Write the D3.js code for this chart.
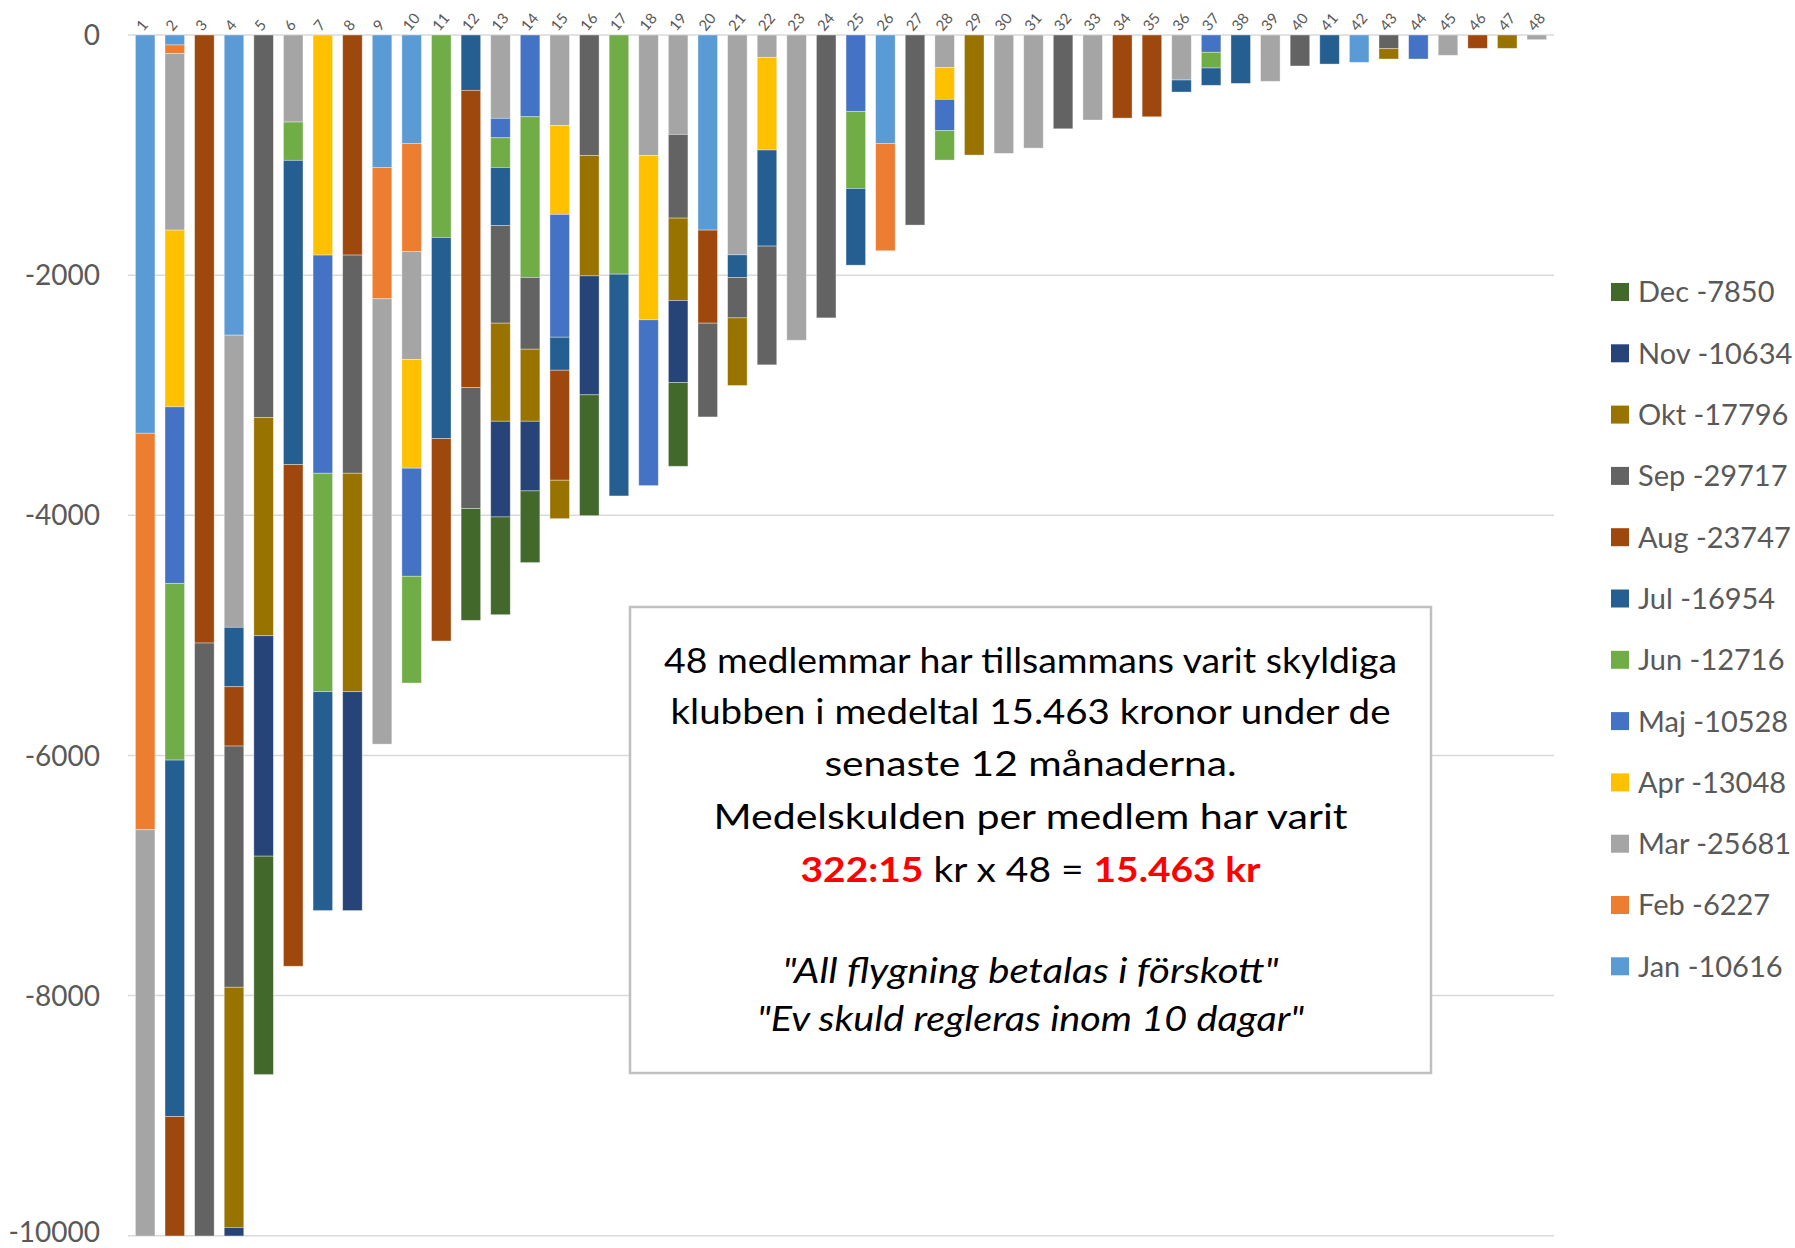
<!DOCTYPE html>
<html>
<head>
<meta charset="utf-8">
<script src="https://cdn.jsdelivr.net/npm/d3@7"></script>
<style>
  body { margin: 0; background: #fff; }
  svg { display: block; }
</style>
</head>
<body>
<div id="chart"></div>
<script>
// members 1..48, debt per month (kr, negative)
var members = d3.range(1, 49).map(String);

var jan = [-3317,-83,0,-2500,0,0,0,0,-1103,-903, 0,0,0,0,0,0,0,0,0,-1625, 0,0,0,0,0,-903,0,0,0,0, 0,0,0,0,0,0,0,0,0,0, 0,-228,0,0,0,0,0,0];
var feb = [-3302,-72,0,0,0,0,0,0,-1094,-900, 0,0,0,0,0,0,0,0,0,0, 0,0,0,0,0,-894,0,0,0,0, 0,0,0,0,0,0,0,0,0,0, 0,0,0,0,0,0,0,0];
var mar = [-4730,-1470,0,-2433,0,-725,0,0,-3709,-900, 0,0,-694,0,-753,0,0,-1003,-828,0, -1831,-186,-2542,0,0,0,0,-272,0,-986, -942,0,-708,0,0,-375,0,0,-386,0, 0,0,0,0,-169,0,0,-39];
var apr = [-5692,-1472,0,0,0,0,-1833,0,0,-905, 0,0,0,0,-741,0,0,-1369,0,0, 0,-772,0,0,0,0,0,-264,0,0, 0,0,0,0,0,0,0,0,0,0, 0,0,0,0,0,0,0,0];
var maj = [-1853,-1470,0,0,0,0,-1817,0,0,-900, 0,0,-162,-681,-1023,0,0,-1381,0,0, 0,0,0,0,-636,0,0,-261,0,0, 0,0,0,0,0,0,-144,0,0,0, 0,0,0,-200,0,0,0,0];
var jun = [-1936,-1472,0,0,0,-319,-1819,0,0,-889, -1686,0,-247,-1338,0,0,-1992,0,0,0, 0,0,0,0,-642,0,0,-245,0,0, 0,0,0,0,0,0,-131,0,0,0, 0,0,0,0,0,0,0,0];
var jul = [-1876,-2969,0,-495,0,-2534,-1823,0,0,0, -1675,-461,-483,0,-275,0,-1847,0,0,0, -188,-800,0,0,-639,0,0,0,0,0, 0,0,0,0,0,-100,-144,-403,0,0, -242,0,0,0,0,0,0,0];
var aug = [-3372,-1470,-5064,-494,0,-4178,0,-1833,0,0, -1686,-2475,0,0,-916,0,0,0,0,-775, 0,0,0,0,0,0,0,0,0,0, 0,0,0,-692,-681,0,0,0,0,0, 0,0,0,0,0,-111,0,0];
var sep = [-4936,-1450,-5000,-2009,-3186,0,0,-1817,0,0, 0,-1008,-814,-598,0,-1003,0,0,-697,-781, -337,-989,0,-2356,0,0,-1583,0,0,0, 0,-781,0,0,0,0,0,0,0,-258, 0,0,-114,0,0,0,0,0];
var okt = [-4004,-1470,-1500,-2000,-1817,0,0,-1819,0,0, 0,0,-817,-600,-320,-1003,0,0,-686,0, -563,0,0,0,0,0,0,0,-1000,0, 0,0,0,0,0,0,0,0,0,0, 0,0,-86,0,0,0,-111,0];
var nov = [-854,-1470,-1500,-100,-1836,0,0,-1823,0,0, 0,0,-797,-580,0,-991,0,0,-683,0, 0,0,0,0,0,0,0,0,0,0, 0,0,0,0,0,0,0,0,0,0, 0,0,0,0,0,0,0,0];
var dec = [0,-1470,-515,0,-1819,0,0,0,0,0, 0,-931,-814,-597,0,-1006,0,0,-698,0, 0,0,0,0,0,0,0,0,0,0, 0,0,0,0,0,0,0,0,0,0, 0,0,0,0,0,0,0,0];

var months = ["Jan", "Feb", "Mar", "Apr", "Maj", "Jun", "Jul", "Aug", "Sep", "Okt", "Nov", "Dec"];
var monthTotals = [-10616, -6227, -25681, -13048, -10528, -12716, -16954, -23747, -29717, -17796, -10634, -7850];
var colors = ["#5B9BD5", "#ED7D31", "#A5A5A5", "#FFC000", "#4472C4", "#70AD47",
              "#255E91", "#9E480E", "#636363", "#997300", "#264478", "#43682B"];
var yTicks = [0, -2000, -4000, -6000, -8000, -10000];

var series = [jan, feb, mar, apr, maj, jun, jul, aug, sep, okt, nov, dec];

var width = 1795, height = 1248;
var margin = { top: 35, left: 128, right: 241, bottom: 12 };

var svg = d3.select("#chart").append("svg")
    .attr("width", width)
    .attr("height", height)
    .style("font-family", "Lato, 'Open Sans', sans-serif");

var x = d3.scaleBand()
    .domain(members)
    .range([margin.left, width - margin.right])
    .paddingInner(0.34)
    .paddingOuter(0.25);

var y = d3.scaleLinear()
    .domain([-10000, 0])
    .range([1235.7, margin.top]);

// table for d3.stack
var rows = members.map(function (m, i) {
    var r = { member: m };
    months.forEach(function (mo, j) { r[mo] = series[j][i]; });
    return r;
});

var stacked = d3.stack()
    .keys(months)
    .offset(d3.stackOffsetDiverging)(rows);

// gridlines + y labels
svg.append("g")
    .selectAll("line")
    .data(yTicks)
    .enter().append("line")
    .attr("x1", margin.left)
    .attr("x2", width - margin.right)
    .attr("y1", d => y(d))
    .attr("y2", d => y(d))
    .attr("stroke", "#d9d9d9")
    .attr("stroke-width", 1.5);

svg.append("g")
    .selectAll("text")
    .data(yTicks)
    .enter().append("text")
    .attr("x", 100)
    .attr("y", d => Math.min(y(d), 1232))
    .attr("dy", "0.36em")
    .attr("text-anchor", "end")
    .style("font-size", "28px")
    .style("fill", "#595959")
    .text(d => String(d));

// clip everything below -10000
svg.append("clipPath")
    .attr("id", "plotclip")
    .append("rect")
    .attr("x", 0)
    .attr("y", 0)
    .attr("width", width)
    .attr("height", y(-10000));

var layer = svg.append("g")
    .attr("clip-path", "url(#plotclip)")
    .selectAll("g")
    .data(stacked)
    .enter().append("g")
    .attr("fill", (d, i) => colors[i]);

layer.selectAll("rect")
    .data(d => d)
    .enter().append("rect")
    .attr("x", d => x(d.data.member))
    .attr("width", x.bandwidth())
    .attr("y", d => y(Math.max(d[0], d[1])))
    .attr("height", d => Math.abs(y(d[0]) - y(d[1])))
    .attr("stroke", "#ffffff")
    .attr("stroke-opacity", 0.45)
    .attr("stroke-width", 0.8);

// member labels along the top
svg.append("g")
    .selectAll("text")
    .data(members)
    .enter().append("text")
    .attr("transform", d => "translate(" + (x(d) + x.bandwidth() / 2 - 2) + ",32) rotate(-50)")
    .style("font-size", "15px")
    .style("fill", "#595959")
    .text(d => d);

// text box
var box = { x: 630, y: 607, w: 801, h: 466 };
var note = svg.append("g");
note.append("rect")
    .attr("x", box.x)
    .attr("y", box.y)
    .attr("width", box.w)
    .attr("height", box.h)
    .attr("fill", "#fff")
    .attr("stroke", "#bfbfbf")
    .attr("stroke-width", 2.5);

var cx = box.x + box.w / 2;
var noteLines = [
    { t: [["48 medlemmar  har tillsammans varit skyldiga", false]], y: 673, w: 733 },
    { t: [["klubben i medeltal 15.463 kronor under de", false]], y: 724, w: 720 },
    { t: [["senaste 12 månaderna.", false]], y: 776, w: 412 },
    { t: [["Medelskulden per medlem har varit", false]], y: 829, w: 634 },
    { t: [["322:15", true], [" kr x 48 = ", false], ["15.463 kr", true]], y: 882, w: 460 },
    { t: [["\"All flygning betalas i förskott\"", false]], y: 983, w: 496, italic: true },
    { t: [["\"Ev skuld regleras inom 10 dagar\"", false]], y: 1031, w: 547, italic: true }
];

noteLines.forEach(function (ln) {
    var tx = note.append("text")
        .attr("x", cx)
        .attr("y", ln.y)
        .attr("text-anchor", "middle")
        .attr("textLength", ln.w)
        .attr("lengthAdjust", "spacingAndGlyphs")
        .style("font-size", "35px")
        .style("fill", "#000")
        .style("font-style", ln.italic ? "italic" : "normal");
    ln.t.forEach(function (p) {
        tx.append("tspan")
            .text(p[0])
            .style("fill", p[1] ? "#ff0000" : "#000")
            .style("font-weight", p[1] ? "bold" : "normal");
    });
});

// legend (Dec first, like Excel)
var legendOrder = d3.range(11, -1, -1);
var legend = svg.append("g")
    .selectAll("g")
    .data(legendOrder)
    .enter().append("g")
    .attr("transform", (d, i) => "translate(1611," + (292 + i * 61.3) + ")");

legend.append("rect")
    .attr("x", 0)
    .attr("y", -9)
    .attr("width", 18)
    .attr("height", 18)
    .attr("fill", d => colors[d]);

legend.append("text")
    .attr("x", 27)
    .attr("dy", "0.36em")
    .style("font-size", "29px")
    .style("fill", "#595959")
    .text(d => months[d] + " " + monthTotals[d]);
</script>
</body>
</html>
